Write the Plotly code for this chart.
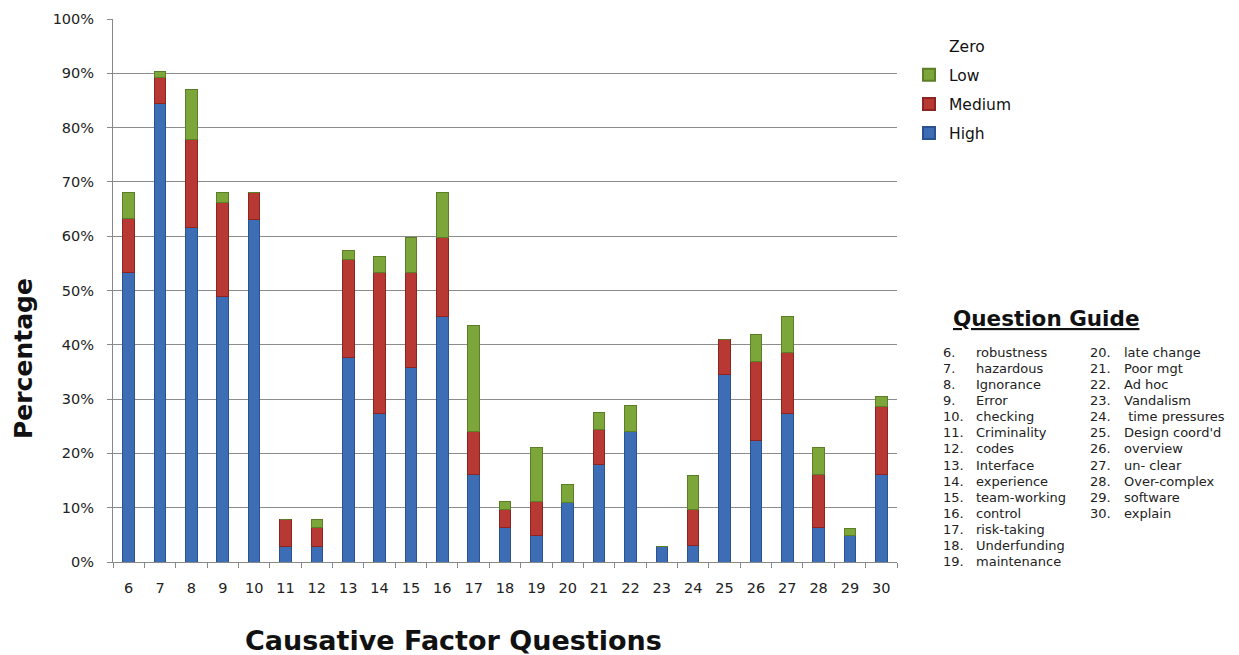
import plotly.graph_objects as go

questions = [str(q) for q in range(6, 31)]
# cumulative tops (percent)
high_top   = [53.3, 84.4, 61.6, 48.9, 63.0, 2.9, 2.9, 37.7, 27.4, 35.8, 45.3, 16.2, 6.4, 4.8, 11.0, 18.0, 24.1, 2.9, 3.1, 34.6, 22.4, 27.4, 6.4, 4.8, 16.2]
medium_top = [63.2, 89.2, 77.8, 66.2, 68.0, 7.9, 6.4, 55.7, 53.3, 53.3, 59.7, 24.1, 9.7, 11.2, 11.0, 24.4, 24.1, 2.9, 9.6, 41.0, 37.0, 38.6, 16.2, 4.8, 28.7]
low_top    = [68.0, 90.4, 87.1, 68.0, 68.0, 7.9, 7.9, 57.4, 56.3, 59.7, 68.0, 43.6, 11.2, 21.0, 14.3, 27.6, 28.9, 2.9, 16.0, 41.0, 41.9, 45.2, 21.0, 6.1, 30.5]

high = high_top
medium = [round(m - h, 2) for m, h in zip(medium_top, high_top)]
low = [round(l - m, 2) for l, m in zip(low_top, medium_top)]

y_ticks = [0, 10, 20, 30, 40, 50, 60, 70, 80, 90, 100]
y_tick_labels = [f"{t}%" for t in y_ticks]

guide_col1_num = ["6.", "7.", "8.", "9.", "10.", "11.", "12.", "13.", "14.", "15.", "16.", "17.", "18.", "19."]
guide_col1_txt = ["robustness", "hazardous", "Ignorance", "Error", "checking", "Criminality", "codes", "Interface",
                  "experience", "team-working", "control", "risk-taking", "Underfunding", "maintenance"]
guide_col2_num = ["20.", "21.", "22.", "23.", "24.", "25.", "26.", "27.", "28.", "29.", "30."]
guide_col2_txt = ["late change", "Poor mgt", "Ad hoc", "Vandalism", " time pressures", "Design coord'd",
                  "overview", "un- clear", "Over-complex", "software", "explain"]

BLUE = "#3d6db4"
RED = "#b83834"
GREEN = "#7ca63a"

fig = go.Figure()
fig.add_trace(go.Bar(x=questions, y=high, name="High", legendrank=4, legendgroup="g4",
                     marker=dict(color=BLUE, line=dict(color="#2a5290", width=1))))
fig.add_trace(go.Bar(x=questions, y=medium, name="Medium", legendrank=3, legendgroup="g3",
                     marker=dict(color=RED, line=dict(color="#8c2421", width=1))))
fig.add_trace(go.Bar(x=questions, y=low, name="Low", legendrank=2, legendgroup="g2",
                     marker=dict(color=GREEN, line=dict(color="#5b7e27", width=1))))
fig.add_trace(go.Scatter(x=[None], y=[None], name="Zero", mode="markers", legendrank=1, legendgroup="g1",
                         marker=dict(color="rgba(0,0,0,0)", size=8)))

W, H = 1239, 655
OFF = 8  # page offset (body margin)
L, R, T, B = 113 - OFF, 897 - OFF, 19 - OFF, 562 - OFF

def px(x):
    return (x - OFF - L) / (R - L)

def py(y):
    return (B - (y - OFF)) / (B - T)

SANS = "DejaVu Sans"
annotations = []
annotations.append(dict(text="<b><u>Question Guide</u></b>", x=px(1046), y=py(318), xref="paper", yref="paper",
                        showarrow=False, xanchor="center", yanchor="middle",
                        font=dict(family=SANS, size=21.5, color="#111")))
annotations.append(dict(text="<b>Causative Factor Questions</b>", x=px(453), y=py(640), xref="paper", yref="paper",
                        showarrow=False, xanchor="center", yanchor="middle",
                        font=dict(family=SANS, size=27, color="#111")))
annotations.append(dict(text="<b>Percentage</b>", x=px(23), y=py(359), xref="paper", yref="paper",
                        showarrow=False, xanchor="center", yanchor="middle", textangle=-90,
                        font=dict(family=SANS, size=25, color="#111")))
line_h = 16.15
y0 = 352
gfont = dict(family=SANS, size=13, color="#222")
for i, (n, t) in enumerate(zip(guide_col1_num, guide_col1_txt)):
    yy = py(y0 + i * line_h)
    annotations.append(dict(text=n, x=px(941), y=yy, xref="paper", yref="paper", showarrow=False,
                            xanchor="left", yanchor="middle", font=gfont))
    annotations.append(dict(text=t, x=px(974), y=yy, xref="paper", yref="paper", showarrow=False,
                            xanchor="left", yanchor="middle", font=gfont))
for i, (n, t) in enumerate(zip(guide_col2_num, guide_col2_txt)):
    yy = py(y0 + i * line_h)
    annotations.append(dict(text=n, x=px(1088), y=yy, xref="paper", yref="paper", showarrow=False,
                            xanchor="left", yanchor="middle", font=gfont))
    annotations.append(dict(text=t, x=px(1122), y=yy, xref="paper", yref="paper", showarrow=False,
                            xanchor="left", yanchor="middle", font=gfont))

fig.update_layout(
    width=W, height=H,
    barmode="stack",
    bargap=0.63,
    plot_bgcolor="white", paper_bgcolor="white",
    margin=dict(l=L, r=W - R, t=T, b=H - B, pad=0, autoexpand=False),
    font=dict(family=SANS, color="#222"),
    showlegend=True,
    legend=dict(traceorder="grouped", tracegroupgap=6, x=px(909), y=py(29), xanchor="left", yanchor="top",
                font=dict(family=SANS, size=15.5, color="#111"), itemsizing="constant",
                bgcolor="rgba(0,0,0,0)"),
    annotations=annotations,
    xaxis=dict(type="category", tickson="boundaries", ticks="outside", ticklen=5, tickcolor="#888",
               showline=True, linecolor="#888", linewidth=1, showgrid=False, automargin=False,
               ticklabelstandoff=13,
               tickfont=dict(family=SANS, size=14.5, color="#222")),
    yaxis=dict(range=[0, 100], tickvals=y_ticks, ticktext=y_tick_labels, ticks="outside", ticklen=5,
               tickcolor="#888", showline=True, linecolor="#888", linewidth=1, automargin=False,
               showgrid=True, gridcolor="#8c8c8c", gridwidth=1, zeroline=False,
               ticklabelstandoff=10,
               tickfont=dict(family=SANS, size=14.5, color="#222")),
)

fig.write_html("out.html")
